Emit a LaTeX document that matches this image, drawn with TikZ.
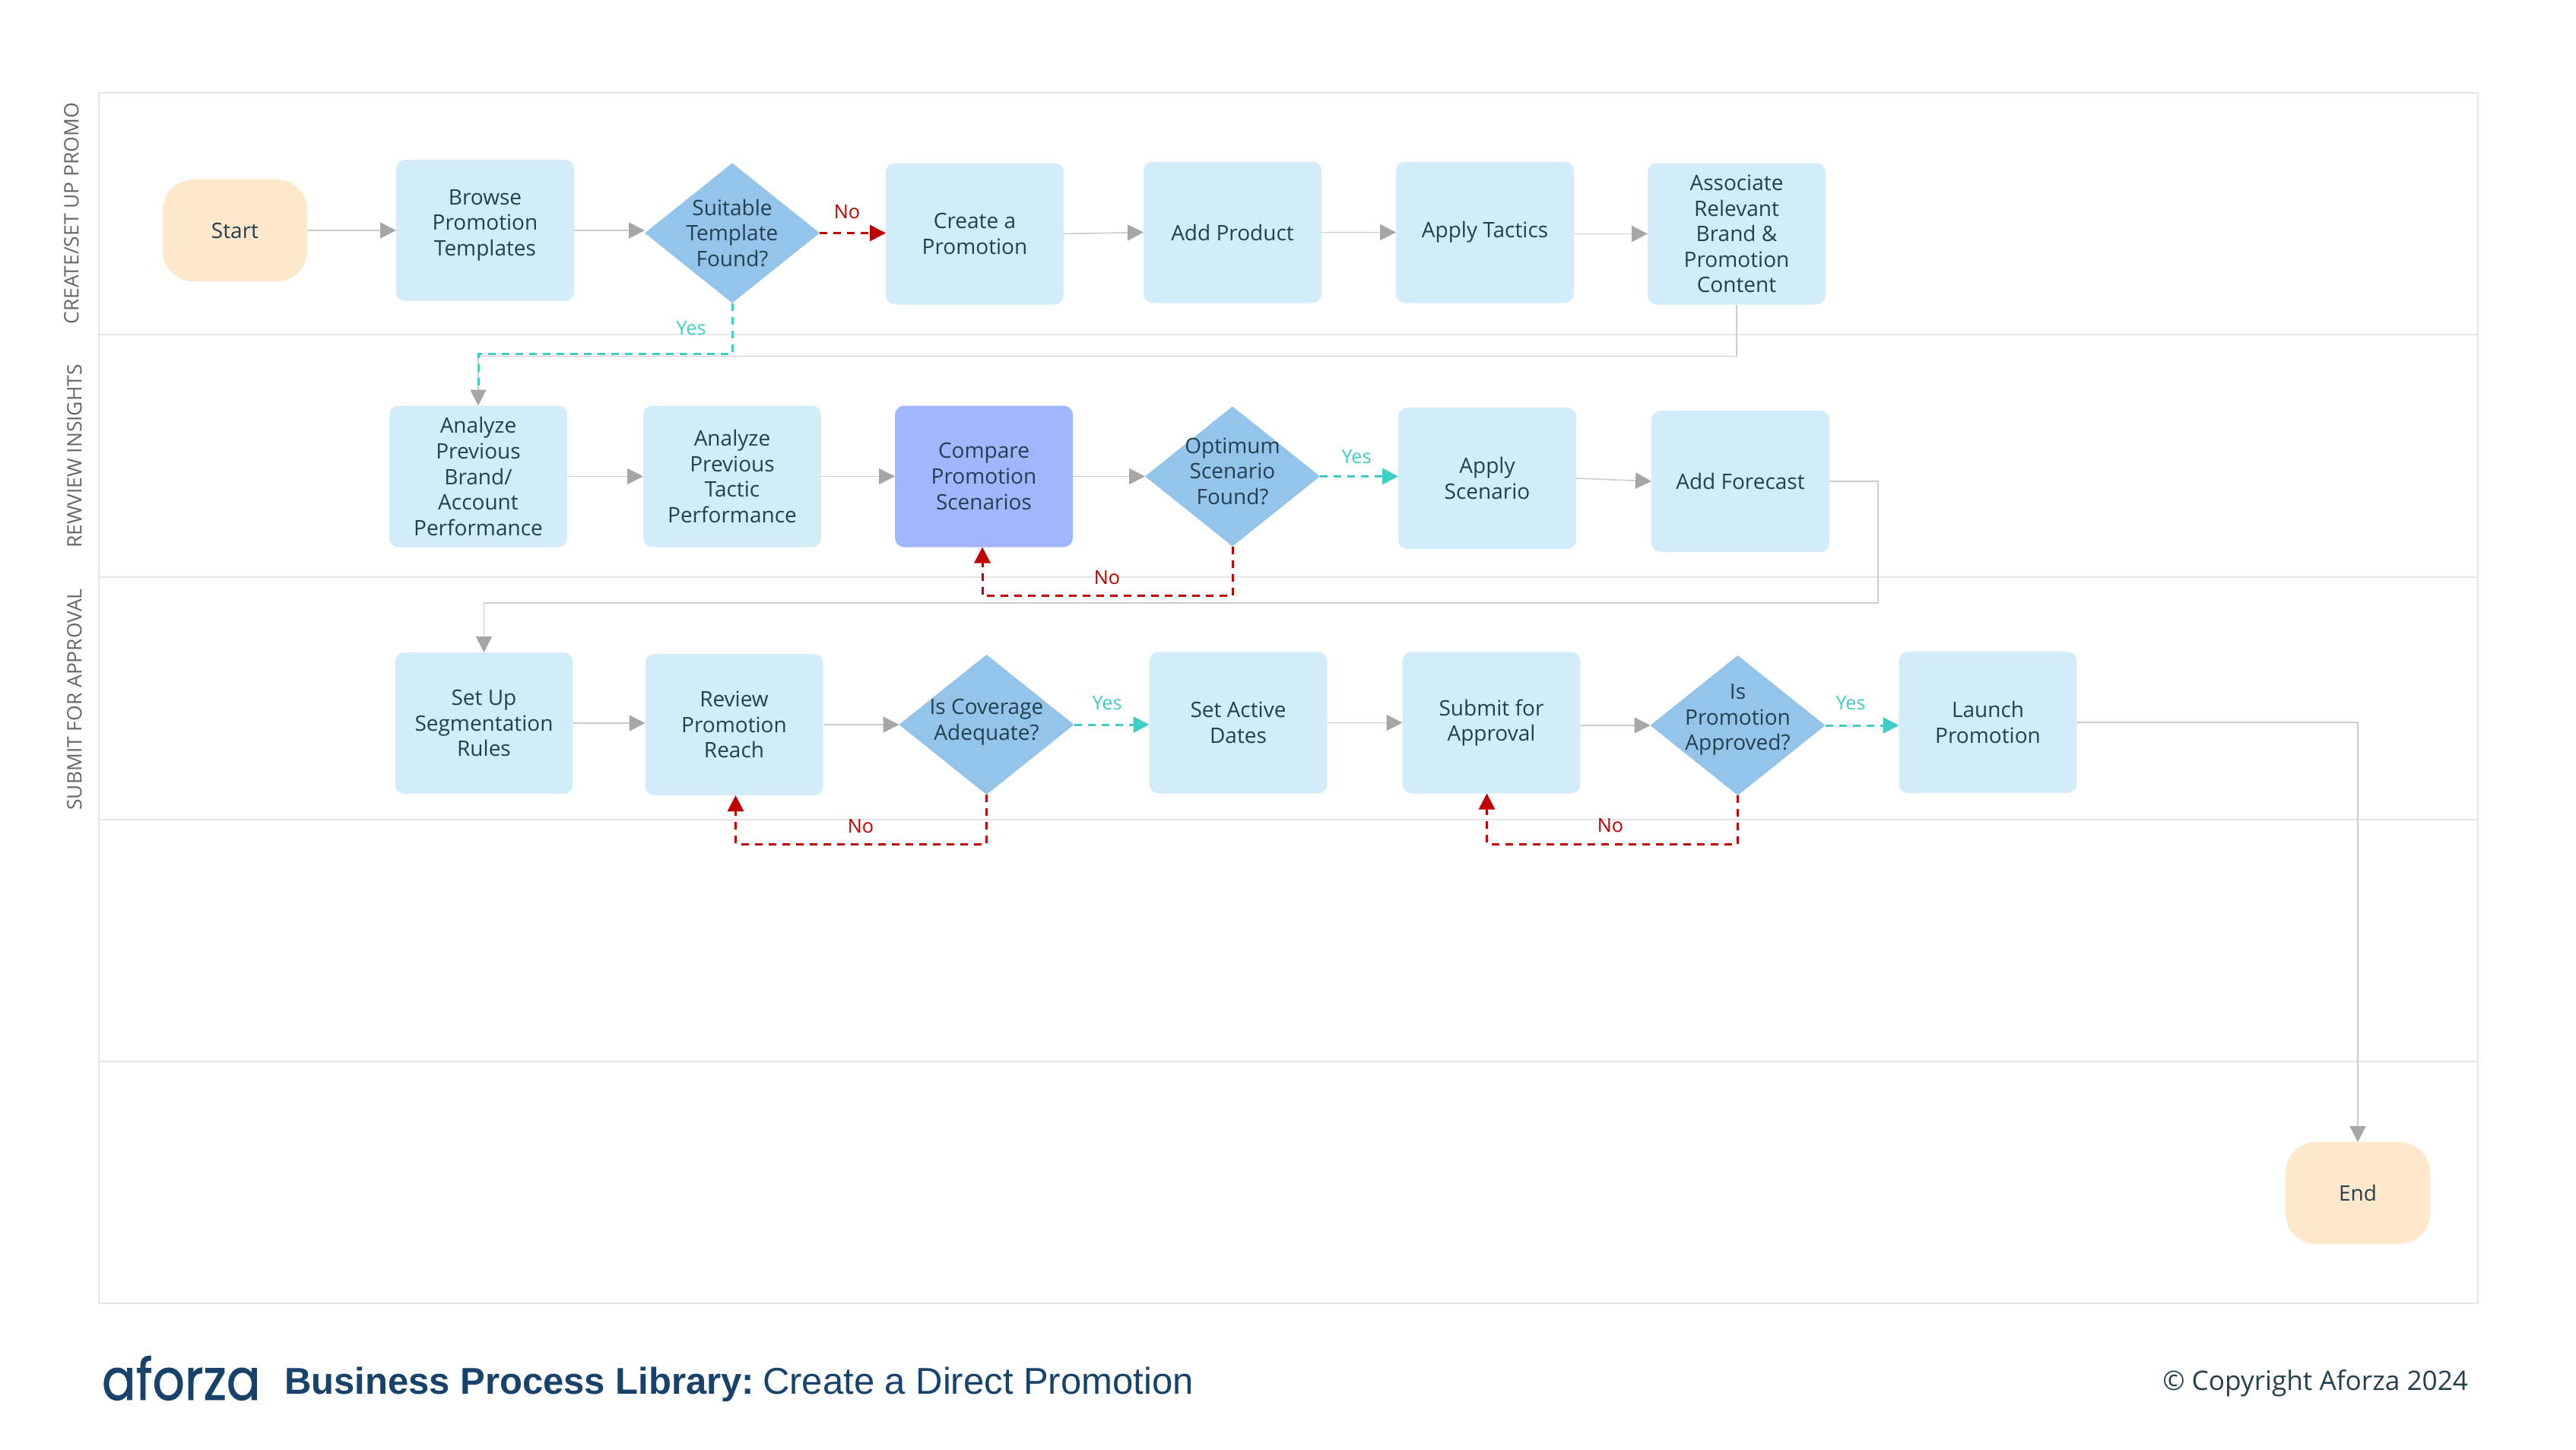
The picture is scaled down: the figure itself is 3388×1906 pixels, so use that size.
\documentclass[tikz,border=0pt]{standalone}
\usepackage{fontspec}
\setmainfont{Open Sans}
\newfontfamily\titlefont{Liberation Sans}
\newfontfamily\logofont[FakeBold=1.2]{Poppins}
\usetikzlibrary{arrows.meta,positioning,shapes.geometric}
\definecolor{ink}{HTML}{24404F}
\definecolor{wash}{HTML}{D2EDF9}
\definecolor{query}{HTML}{94C4EA}
\definecolor{focus}{HTML}{A2B5FF}
\definecolor{term}{HTML}{FFE8CC}
\definecolor{navy}{HTML}{17426B}
\definecolor{nored}{HTML}{C00000}
\definecolor{yesteal}{HTML}{3ECFC4}
\definecolor{tipgrey}{HTML}{A6A6A6}
\definecolor{linegrey}{HTML}{CCCCCC}
\definecolor{lanegrey}{HTML}{E6E6E6}
\tikzset{every node/.style={outer sep=0pt,text=ink},
lane/.style={draw=lanegrey,line width=1pt},
lanelabel/.style={rotate=90,font=\fontsize{13.2}{16}\selectfont,text=black!60},
box/.style={fill=wash,rounded corners=6pt,align=center,minimum width=117pt,minimum height=93pt,inner sep=0pt,font=\fontsize{14}{16.8}\selectfont},
focusbox/.style={box,fill=focus},
terminal/.style={box,fill=term,rounded corners=20pt,minimum width=95pt,minimum height=67pt},
decision/.style={diamond,fill=query,align=center,minimum width=115pt,minimum height=92pt,inner sep=-30pt,font=\fontsize{14}{16.8}\selectfont},
arr/.style={-{Triangle[length=10.5pt,width=10.5pt,color=tipgrey]},draw=linegrey,line width=.8pt},
noarr/.style={-{Triangle[length=10.5pt,width=10.5pt]},draw=nored,line width=1.5pt,dash pattern=on 5pt off 4pt},
yesarr/.style={-{Triangle[length=10.5pt,width=10.5pt]},draw=yesteal,line width=1.5pt,dash pattern=on 5pt off 4pt},
nolabel/.style={text=nored,font=\fontsize{12.6}{15}\selectfont},
yeslabel/.style={text=yesteal,font=\fontsize{12.6}{15}\selectfont}}
\begin{document}
\begin{tikzpicture}[x=0.5pt,y=-0.5pt]
\useasboundingbox (0,0) rectangle (3388,1906);
% lanes
\draw[lane](130,122) rectangle (3259,1714);
\foreach \y in {440,759,1078,1396}{\draw[lane](130,\y)--(3259,\y);}
\node[lanelabel](lanea) at (94,281){CREATE/SET UP PROMO};
\node[lanelabel](laneb) at (98,600){REWVIEW INSIGHTS};
\node[lanelabel](lanec) at (98,920){SUBMIT FOR APPROVAL};
% row 1
\node[terminal](start) at (309,303){Start};
\node[box,right=58.5pt of start](browse){\mbox{}\\[-13.5pt]Browse\\Promotion\\Templates};
\node[decision,right=46.5pt of browse,yshift=-1.75pt](suitable){Suitable\\Template\\Found?};
\node[box,right=43.5pt of suitable,yshift=-.5pt](create){Create a\\Promotion};
\node[box,right=52.5pt of create,yshift=1pt](product){Add Product};
\node[box,right=49pt of product](tactics){Apply Tactics};
\node[box,right=48.5pt of tactics,yshift=-1pt](content){Associate\\Relevant\\Brand \&\\Promotion\\Content};
% row 2
\node[box](brandperf) at (629,626.5){Analyze\\Previous\\Brand/\\Account\\Performance};
\node[box,right=50pt of brandperf](tacticperf){Analyze\\Previous\\Tactic\\Performance};
\node[focusbox,right=48.5pt of tacticperf](compare){Compare\\Promotion\\Scenarios};
\node[decision,right=47.5pt of compare](optimum){\mbox{}\\[-13.5pt]Optimum\\Scenario\\Found?};
\node[box,right=51.5pt of optimum,yshift=-1.25pt](applyscen){Apply\\Scenario};
\node[box,right=49.5pt of applyscen,yshift=-2pt](forecast){Add Forecast};
% row 3
\node[box](segment) at (636.5,951){Set Up\\Segmentation\\Rules};
\node[box,right=47.5pt of segment,yshift=-1pt](reach){Review\\Promotion\\Reach};
\node[decision,right=50pt of reach](coverage){\mbox{}\\[-10pt]Is Coverage\\Adequate?};
\node[box,right=49.5pt of coverage,yshift=1.25pt](dates){Set Active\\Dates};
\node[box,right=49.5pt of dates](submit){Submit for\\Approval};
\node[decision,right=46pt of submit,yshift=-1.75pt](approved){Is\\Promotion\\Approved?\\[-6pt]\mbox{}};
\node[box,right=48.5pt of approved,yshift=2pt](launch){Launch\\Promotion};
\node[terminal](end) at (3101,1569){End};
% grey flow
\foreach \x/\y in {start/browse,create/product,product/tactics,brandperf/tacticperf,tacticperf/compare,compare/optimum,applyscen/forecast,reach/coverage,dates/submit}{\draw[arr](\x.east)--(\y.west);}
\draw[arr](browse.east)--(browse.east-|suitable.west);
\draw[arr](tactics.east|-content.west)--(content.west);
\draw[arr](segment.east)--(segment.east-|reach.west);
\draw[arr](submit.east|-approved.west)--(approved.west);
\draw[arr](content.south)--++(0,68)-|(brandperf.north);
\draw[arr](forecast.east)-|++(64,160)-|(segment.north);
\draw[arr](launch.east)-|(end.north);
% yes and no
\draw[yesarr,-,shorten >=10.5pt](suitable.south)--++(0,67)-|(brandperf.north);
\draw[noarr](suitable.east)--(suitable.east-|create.west);
\draw[yesarr](optimum.east)--(optimum.east-|applyscen.west);
\draw[noarr](optimum.south)--++(0,65)-|([xshift=-1pt]compare.south);
\draw[yesarr](coverage.east)--(coverage.east-|dates.west);
\draw[noarr](coverage.south)--++(0,65)-|([xshift=1pt]reach.south);
\draw[yesarr](approved.east)--(approved.east-|launch.west);
\draw[noarr](approved.south)--++(0,64)-|([xshift=-3pt]submit.south);
\node[nolabel](nosuit) at (1114,279){No};
\node[yeslabel](yessuit) at (909,432){Yes};
\node[yeslabel](yesopt) at (1784,601){Yes};
\node[nolabel](noopt) at (1456,760){No};
\node[yeslabel](yescov) at (1456,925){Yes};
\node[nolabel](nocov) at (1132,1087){No};
\node[yeslabel](yesapp) at (2434,925){Yes};
\node[nolabel](noapp) at (2118,1086){No};
% footer
\node[anchor=base west,inner sep=0pt,text=navy,xscale=.92,yscale=1.05,font=\logofont\fontsize{36}{40}\selectfont](logo) at (134,1841){aforza};
\node[anchor=west,inner sep=0pt,text=navy,font=\titlefont\fontsize{24.5}{30}\selectfont](title) at (374,1821){\textbf{Business Process Library:}\hspace{5.5pt}Create a Direct Promotion};
\node[anchor=east,inner sep=0pt,font=\fontsize{17.6}{22}\selectfont](copy) at (3246,1819){© Copyright Aforza 2024};
\end{tikzpicture}
\end{document}
